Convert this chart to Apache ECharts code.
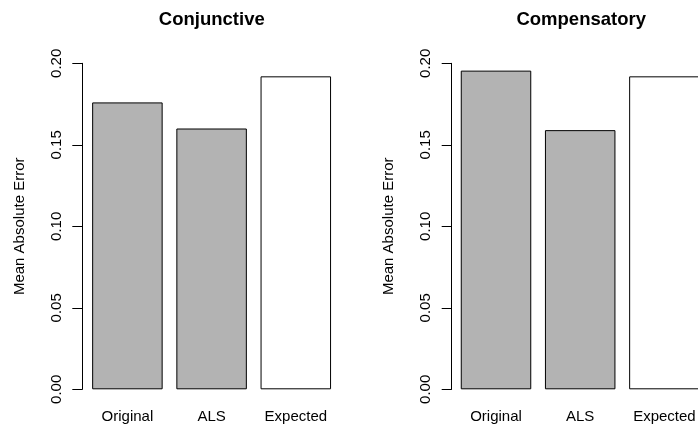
<!DOCTYPE html>
<html>
<head>
<meta charset="utf-8">
<script src="https://cdn.jsdelivr.net/npm/echarts@6/dist/echarts.min.js"></script>
<style>html,body{margin:0;padding:0;background:#fff}#c{width:698px;height:426px}</style>
</head>
<body>
<div id="c"></div>
<script>
const categories = ['Original', 'ALS', 'Expected'];
const conjunctive = [0.176, 0.160, 0.192];
const compensatory = [0.1955, 0.159, 0.192];
const yTickLabels = ['0.00', '0.05', '0.10', '0.15', '0.20'];
const panelTitles = ['Conjunctive', 'Compensatory'];
const fillColors = ['#B3B3B3', '#B3B3B3', '#FFFFFF'];
const yAxisTitle = 'Mean Absolute Error';

const FONT = 'Liberation Sans, Arial, Helvetica, sans-serif';
const chart = echarts.init(document.getElementById('c'), null, {renderer: 'canvas'});

const panels = [
  {left: 85.3, title: panelTitles[0], data: conjunctive, offset: 3},
  {left: 453.9, title: panelTitles[1], data: compensatory, offset: 2.2}
];

const option = {
  backgroundColor: '#ffffff',
  animation: false,
  title: panels.map(p => ({
    text: p.title,
    left: p.left - p.offset + 129.5,
    textAlign: 'center',
    padding: 0,
    top: 10,
    textStyle: {fontFamily: FONT, fontWeight: 'bold', fontSize: 18.5, color: '#000'}
  })),
  grid: panels.map(p => ({left: p.left, top: 63.3, width: 252.6, height: 326,
    containLabel: false, outerBoundsMode: 'none'})),
  xAxis: panels.map((p, i) => ({
    type: 'category',
    gridIndex: i,
    data: categories,
    axisLine: {show: false},
    axisTick: {show: false},
    axisLabel: {fontFamily: FONT, fontSize: 15, color: '#000', margin: 20, interval: 0}
  })),
  yAxis: panels.map((p, i) => ({
    type: 'value',
    gridIndex: i,
    min: 0,
    max: 0.2,
    interval: 0.05,
    offset: p.offset,
    splitLine: {show: false},
    axisLine: {show: true, lineStyle: {color: '#000', width: 1}},
    axisTick: {show: true, length: 10, lineStyle: {color: '#000', width: 1}},
    axisLabel: {
      fontFamily: FONT, fontSize: 15, color: '#000', rotate: 90, margin: 18,
      formatter: (v) => yTickLabels[Math.round(v / 0.05)]
    },
    name: yAxisTitle,
    nameLocation: 'middle',
    nameGap: 55,
    nameTextStyle: {fontFamily: FONT, fontSize: 15, color: '#000'}
  })),
  series: panels.map((p, i) => ({
    type: 'bar',
    xAxisIndex: i,
    yAxisIndex: i,
    barWidth: 70.5,
    data: p.data.map((v, j) => ({
      value: v,
      itemStyle: {color: fillColors[j], borderColor: '#000', borderWidth: 1}
    }))
  }))
};
chart.setOption(option);
</script>
</body>
</html>
